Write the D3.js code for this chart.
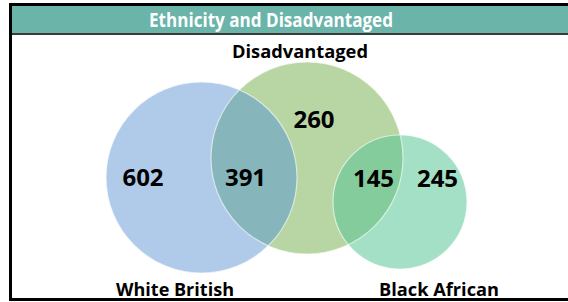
<!DOCTYPE html>
<html><head><meta charset="utf-8">
<script src="https://cdn.jsdelivr.net/npm/d3@7"></script>
<style>body{margin:0;background:#fff}svg{display:block}</style>
</head><body>
<script>
// ---- data ----
const title = "Ethnicity and Disadvantaged";
const setNames = ["White British", "Disadvantaged", "Black African"];
const setColors = ["#afcbe9", "#b8d6a3", "#a3e0c6"];
// circle layout in venn units (x, y, r)
const setLayoutX = [2.015, 3.07, 4.0];
const setLayoutY = [1.775, 1.58, 2.02];
const setLayoutR = [0.955, 0.96, 0.67];
// region values: only-WB, WB∩D, only-D, D∩BA, only-BA
const regionLabels = ["602", "391", "260", "145", "245"];
const regionValues = [602, 391, 260, 145, 245];
const regionPosX = [1.43, 2.455, 3.14, 3.735, 4.375];
const regionPosY = [1.77, 1.77, 1.19, 1.78, 1.78];
const overlapPairs = [[0, 1], [1, 2]];
const overlapColors = ["#86b6bb", "#84cc9c"];
const labelPosX = [1.75, 3.0, 4.39];
const labelPosY = [2.89, 0.51, 2.89];

const W = 568, H = 302;
const svg = d3.select("body").append("svg").attr("width", W).attr("height", H);
const x = d3.scaleLinear().domain([0, 5.68]).range([0, W]);
const y = d3.scaleLinear().domain([0, 3.02]).range([0, H]);
const rs = d3.scaleLinear().domain([0, 1]).range([0, 100]);
const font = "'Open Sans', sans-serif";

// frame
svg.append("rect").attr("x", 12).attr("y", 6).attr("width", W - 12).attr("height", 27).attr("fill", "#6ab4aa");
svg.append("line").attr("x1", 12).attr("x2", W).attr("y1", 34).attr("y2", 34).attr("stroke", "#3a3a3a").attr("stroke-width", 2);
svg.append("line").attr("x1", 9).attr("x2", W).attr("y1", 4.5).attr("y2", 4.5).attr("stroke", "#000").attr("stroke-width", 3);
svg.append("line").attr("x1", 10.5).attr("x2", 10.5).attr("y1", 3).attr("y2", 301).attr("stroke", "#000").attr("stroke-width", 3);
svg.append("line").attr("x1", 9).attr("x2", W).attr("y1", 299.5).attr("y2", 299.5).attr("stroke", "#000").attr("stroke-width", 3);
svg.append("text").attr("x", 271).attr("y", 27).attr("text-anchor", "middle")
  .attr("font-family", font).attr("font-weight", "bold").attr("font-size", 19.5).attr("fill", "#fff")
  .attr("textLength", 244).attr("lengthAdjust", "spacingAndGlyphs").text(title);

const sets = setNames.map((n, i) => ({name: n, cx: x(setLayoutX[i]), cy: y(setLayoutY[i]), r: rs(setLayoutR[i]), color: setColors[i]}));

const defs = svg.append("defs");
sets.forEach((s, i) => {
  defs.append("clipPath").attr("id", "clip" + i).append("circle").attr("cx", s.cx).attr("cy", s.cy).attr("r", s.r);
});

const g = svg.append("g");
g.selectAll("circle.set").data(sets).join("circle").attr("class", "set")
  .attr("cx", d => d.cx).attr("cy", d => d.cy).attr("r", d => d.r).attr("fill", d => d.color);

overlapPairs.forEach((p, k) => {
  const a = sets[p[0]];
  g.append("g").attr("clip-path", `url(#clip${p[1]})`)
    .append("circle").attr("cx", a.cx).attr("cy", a.cy).attr("r", a.r).attr("fill", overlapColors[k]);
});

g.selectAll("circle.edge").data(sets).join("circle").attr("class", "edge")
  .attr("cx", d => d.cx).attr("cy", d => d.cy).attr("r", d => d.r)
  .attr("fill", "none").attr("stroke", "#fff").attr("stroke-opacity", 0.6).attr("stroke-width", 1.2);

svg.selectAll("text.val").data(regionValues).join("text").attr("class", "val")
  .attr("x", (d, i) => x(regionPosX[i])).attr("y", (d, i) => y(regionPosY[i]) + 8.5)
  .attr("text-anchor", "middle").attr("font-family", font).attr("font-weight", "bold")
  .attr("font-size", 24).attr("fill", "#000").text((d, i) => regionLabels[i]);

const labelWidths = [118, 136, 120];
svg.selectAll("text.lab").data(setNames).join("text").attr("class", "lab")
  .attr("x", (d, i) => x(labelPosX[i])).attr("y", (d, i) => y(labelPosY[i]) + 6.5)
  .attr("text-anchor", "middle").attr("font-family", font).attr("font-weight", "bold")
  .attr("font-size", 18).attr("fill", "#000")
  .attr("textLength", (d, i) => labelWidths[i]).attr("lengthAdjust", "spacingAndGlyphs").text(d => d);
</script>
</body></html>
